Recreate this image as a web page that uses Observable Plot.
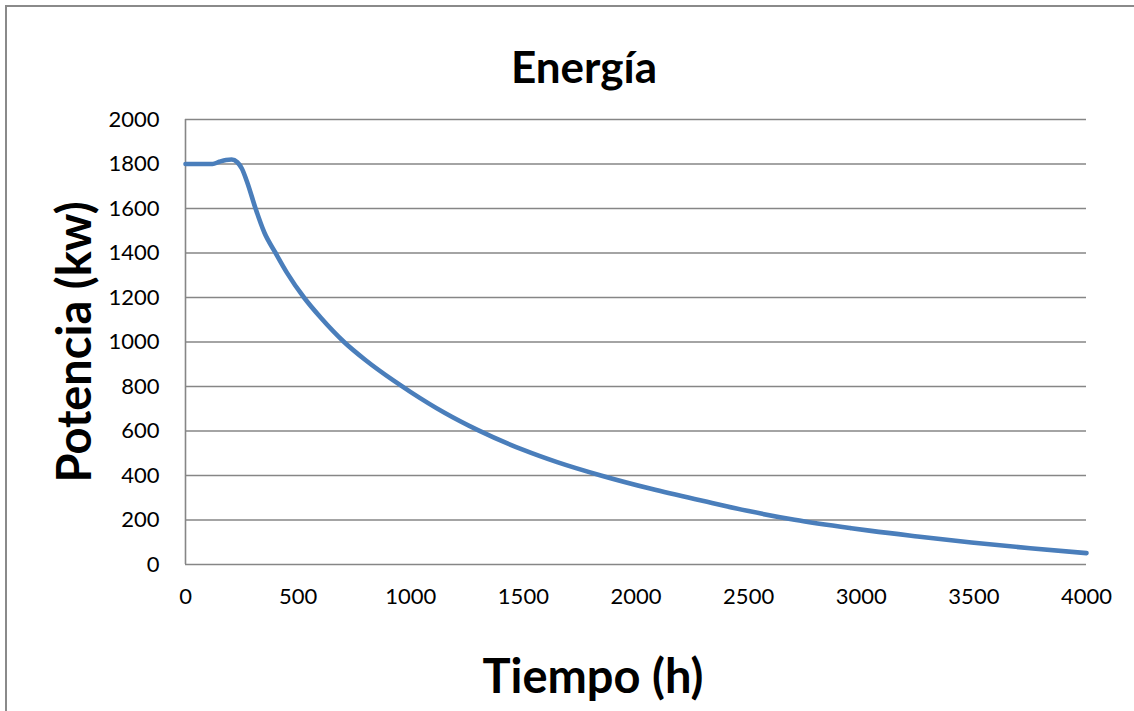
<!DOCTYPE html>
<html>
<head>
<meta charset="utf-8">
<script src="https://cdn.jsdelivr.net/npm/d3@7"></script>
<script src="https://cdn.jsdelivr.net/npm/@observablehq/plot@0.6"></script>
<style>
  html, body { margin: 0; padding: 0; background: #fff; overflow: hidden; }
  #wrap { position: relative; width: 1134px; height: 711px; overflow: hidden; }
  #border { position: absolute; left: 5px; top: 5px; width: 1140px; height: 720px; border: 2px solid #8a8a8a; box-sizing: border-box; pointer-events: none; }
  svg { display: block; }
</style>
</head>
<body>
<div id="wrap"><div id="chart"></div><div id="border"></div></div>
<script>
const chartTitle = "Energía";
const xTitle = "Tiempo (h)";
const yTitle = "Potencia (kw)";
const xTicks = [0, 500, 1000, 1500, 2000, 2500, 3000, 3500, 4000];
const yTicks = [0, 200, 400, 600, 800, 1000, 1200, 1400, 1600, 1800, 2000];
const hours = [0, 60, 120, 150, 180, 205, 230, 250, 275, 311, 350, 400, 450, 526, 600, 704, 800, 926, 1000, 1150, 1296, 1500, 1650, 1844, 2067, 2300, 2500, 2704, 2956, 3044, 3250, 3489, 3750, 4000];
const power = [1800, 1800, 1800, 1810, 1818, 1820, 1808, 1780, 1715, 1600, 1492, 1400, 1312, 1200, 1110, 1000, 918, 825, 775, 682, 605, 515, 460, 400, 340, 285, 240, 201, 163, 151, 126, 99, 73, 51];

const data = hours.map((h, i) => ({h, p: power[i]}));
const font = "Lato, 'Open Sans', sans-serif";
const grey = "#868686";

const chart = Plot.plot({
  width: 1134,
  height: 711,
  marginLeft: 185,
  marginRight: 48,
  marginTop: 119,
  marginBottom: 147,
  style: {fontFamily: font, color: "#000", background: "#fff"},
  x: {domain: [0, 4000]},
  y: {domain: [0, 2000]},
  marks: [
    Plot.gridY(yTicks, {stroke: grey, strokeOpacity: 1, strokeWidth: 1.6}),
    Plot.ruleX([0], {stroke: grey, strokeWidth: 1.6}),
    Plot.axisY(yTicks, {tickSize: 0, tickPadding: 26, fontSize: 22, label: null, tickFormat: d => String(d)}),
    Plot.axisX(xTicks, {tickSize: 0, tickPadding: 24, fontSize: 22, label: null, tickFormat: d => String(d)}),
    Plot.line(data, {x: "h", y: "p", stroke: "#4a7ebb", strokeWidth: 4.6, curve: "monotone-x"}),
    Plot.text([chartTitle], {frameAnchor: "top", textAnchor: "middle", lineAnchor: "middle", dx: -52, dy: -51, fontSize: 44, fontWeight: "bold", fill: "#000"}),
    Plot.text([xTitle], {frameAnchor: "bottom", textAnchor: "middle", lineAnchor: "middle", dx: -43, dy: 113, fontSize: 47, fontWeight: "bold", fill: "#000"}),
    Plot.text([yTitle], {frameAnchor: "left", textAnchor: "middle", lineAnchor: "middle", dx: -110, dy: 0, rotate: -90, fontSize: 47, fontWeight: "bold", fill: "#000"})
  ]
});
document.getElementById("chart").appendChild(chart);
</script>
</body>
</html>
